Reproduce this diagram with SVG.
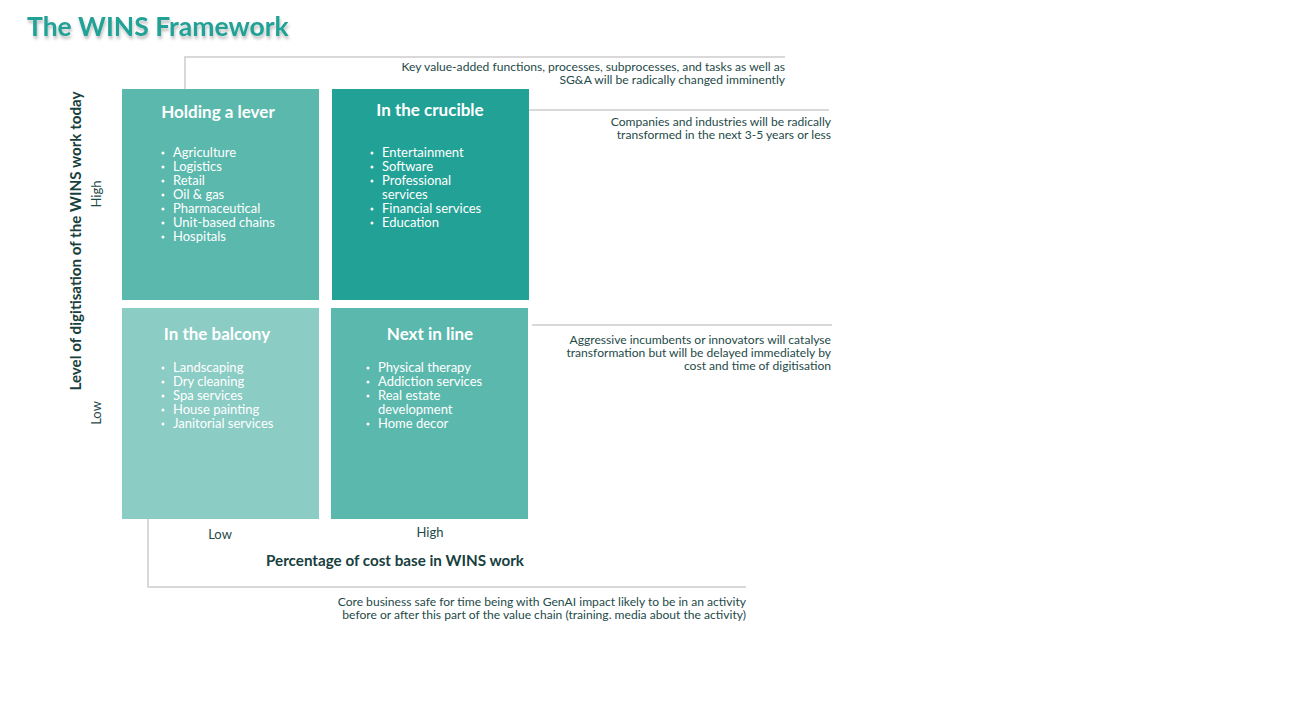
<svg xmlns="http://www.w3.org/2000/svg" width="1308" height="714" viewBox="0 0 1308 714">
<defs>
<filter id="sh" x="-10%" y="-30%" width="130%" height="180%">
<feDropShadow dx="1" dy="3" stdDeviation="1.5" flood-color="#000" flood-opacity="0.25"/>
</filter>
<style>
.t{font-family:Lato,"Open Sans",sans-serif;}
.title{font-size:26.5px;font-weight:bold;fill:#22a196;}
.note{font-size:12.1px;fill:#1e4a48;text-anchor:end;}
.bt{font-size:17px;font-weight:bold;fill:#fff;text-anchor:middle;}
.it{font-size:13px;fill:#fff;}
.dot{fill:#fff;}
.ax{font-size:13px;fill:#1e4a48;}
.axb{font-size:15.2px;font-weight:bold;fill:#17403e;}
.ln{fill:none;stroke:#d9d9d9;stroke-width:2;}
</style>
</defs>
<rect width="1308" height="714" fill="#fff"/>
<text class="t title" x="27" y="36" filter="url(#sh)">The WINS Framework</text>

<g id="connectors">
<polyline class="ln" points="185,89 185,57 785,57"/>
<line class="ln" x1="529" y1="110" x2="829" y2="110"/>
<line class="ln" x1="532" y1="325" x2="832" y2="325"/>
<polyline class="ln" points="148,519 148,587 746,587"/>
</g>

<g id="note-top">
<text class="t note" x="785" y="71">Key value-added functions, processes, subprocesses, and tasks as well as</text>
<text class="t note" x="785" y="84">SG&amp;A will be radically changed imminently</text>
</g>
<g id="note-right-top">
<text class="t note" x="831" y="126">Companies and industries will be radically</text>
<text class="t note" x="831" y="139">transformed in the next 3-5 years or less</text>
</g>
<g id="note-right-bottom">
<text class="t note" x="831" y="344">Aggressive incumbents or innovators will catalyse</text>
<text class="t note" x="831" y="357">transformation but will be delayed immediately by</text>
<text class="t note" x="831" y="370">cost and time of digitisation</text>
</g>
<g id="note-bottom">
<text class="t note" x="746" y="606">Core business safe for time being with GenAI impact likely to be in an activity</text>
<text class="t note" x="746" y="619">before or after this part of the value chain (training. media about the activity)</text>
</g>

<g id="holding-a-lever">
<rect x="122" y="89" width="197" height="211" fill="#5bb8ad"/>
<text class="t bt" x="218" y="118">Holding a lever</text>
<g class="dot">
<circle cx="163" cy="153" r="1.5"/><circle cx="163" cy="167" r="1.5"/><circle cx="163" cy="181" r="1.5"/><circle cx="163" cy="195" r="1.5"/><circle cx="163" cy="209" r="1.5"/><circle cx="163" cy="223" r="1.5"/><circle cx="163" cy="237" r="1.5"/>
</g>
<g class="t it">
<text x="173" y="157">Agriculture</text>
<text x="173" y="171">Logistics</text>
<text x="173" y="185">Retail</text>
<text x="173" y="199">Oil &amp; gas</text>
<text x="173" y="213">Pharmaceutical</text>
<text x="173" y="227">Unit-based chains</text>
<text x="173" y="241">Hospitals</text>
</g>
</g>

<g id="in-the-crucible">
<rect x="332" y="89" width="197" height="211" fill="#22a196"/>
<text class="t bt" x="430" y="116">In the crucible</text>
<g class="dot">
<circle cx="372" cy="153" r="1.5"/><circle cx="372" cy="167" r="1.5"/><circle cx="372" cy="181" r="1.5"/><circle cx="372" cy="209" r="1.5"/><circle cx="372" cy="223" r="1.5"/>
</g>
<g class="t it">
<text x="382" y="157">Entertainment</text>
<text x="382" y="171">Software</text>
<text x="382" y="185">Professional</text>
<text x="382" y="199">services</text>
<text x="382" y="213">Financial services</text>
<text x="382" y="227">Education</text>
</g>
</g>

<g id="in-the-balcony">
<rect x="122" y="308" width="197" height="211" fill="#8bccc4"/>
<text class="t bt" x="217" y="340">In the balcony</text>
<g class="dot">
<circle cx="163" cy="368" r="1.5"/><circle cx="163" cy="382" r="1.5"/><circle cx="163" cy="396" r="1.5"/><circle cx="163" cy="410" r="1.5"/><circle cx="163" cy="424" r="1.5"/>
</g>
<g class="t it">
<text x="173" y="372">Landscaping</text>
<text x="173" y="386">Dry cleaning</text>
<text x="173" y="400">Spa services</text>
<text x="173" y="414">House painting</text>
<text x="173" y="428">Janitorial services</text>
</g>
</g>

<g id="next-in-line">
<rect x="331" y="308" width="197" height="211" fill="#5bb8ad"/>
<text class="t bt" x="430" y="340">Next in line</text>
<g class="dot">
<circle cx="368" cy="368" r="1.5"/><circle cx="368" cy="382" r="1.5"/><circle cx="368" cy="396" r="1.5"/><circle cx="368" cy="424" r="1.5"/>
</g>
<g class="t it">
<text x="378" y="372">Physical therapy</text>
<text x="378" y="386">Addiction services</text>
<text x="378" y="400">Real estate</text>
<text x="378" y="414">development</text>
<text x="378" y="428">Home decor</text>
</g>
</g>

<g id="axes">
<text class="t ax" x="220" y="539" text-anchor="middle">Low</text>
<text class="t ax" x="430" y="537" text-anchor="middle">High</text>
<text class="t axb" x="395" y="566" text-anchor="middle">Percentage of cost base in WINS work</text>
<text class="t axb" transform="translate(81,241) rotate(-90)" text-anchor="middle">Level of digitisation of the WINS work today</text>
<text class="t ax" transform="translate(101,194) rotate(-90)" text-anchor="middle">High</text>
<text class="t ax" transform="translate(101,413) rotate(-90)" text-anchor="middle">Low</text>
</g>
</svg>
